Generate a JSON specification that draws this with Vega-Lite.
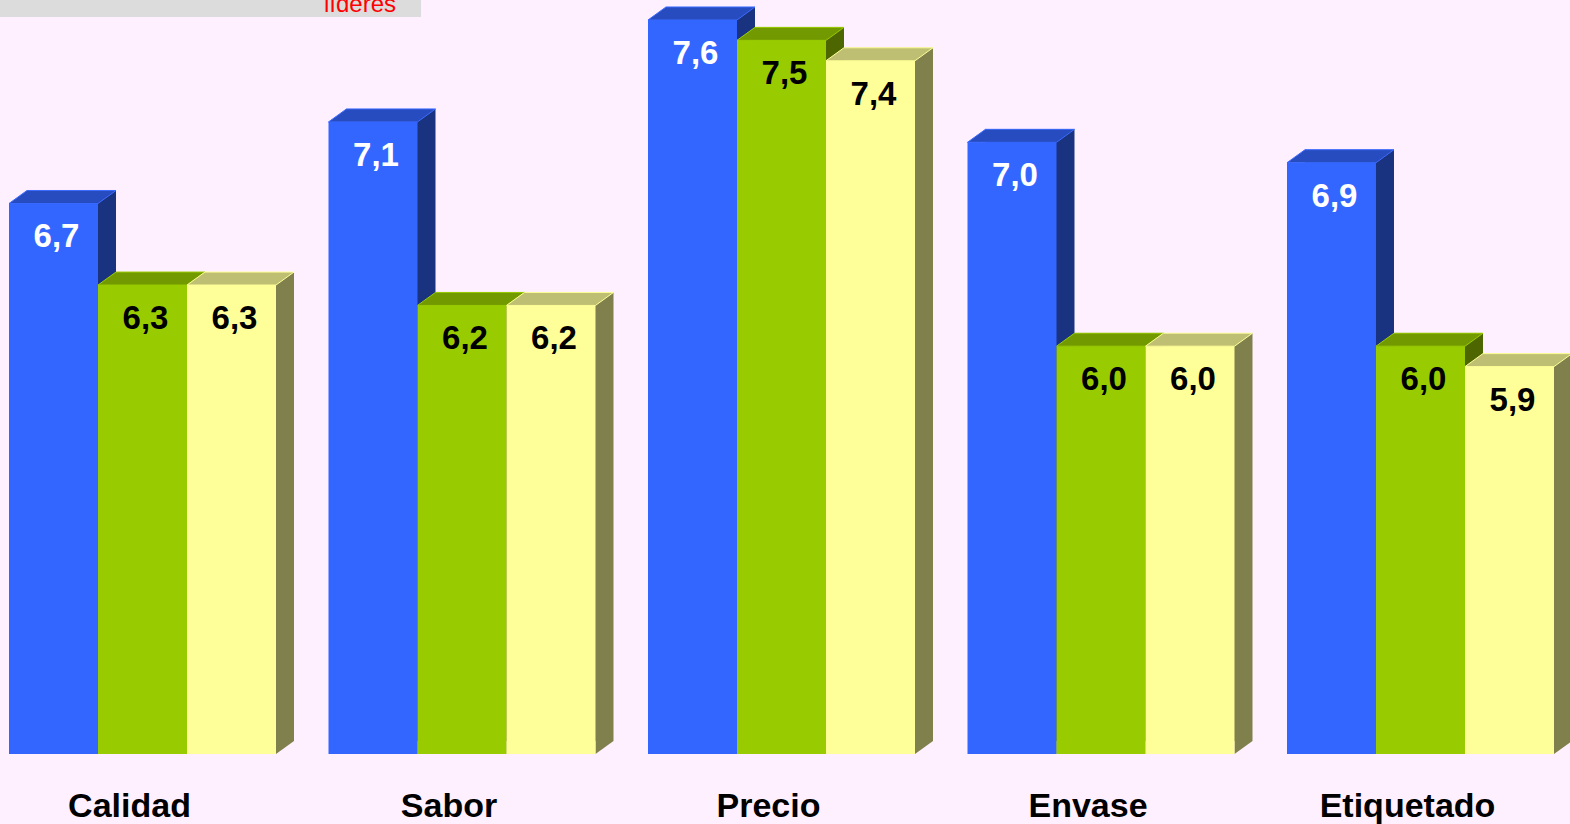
{
  "$schema": "https://vega.github.io/schema/vega-lite/v6.json",
  "width": 1570,
  "height": 754,
  "autosize": {"type": "none"},
  "padding": {"left": 0, "top": 0, "right": 0, "bottom": 70},
  "background": "#FFF0FF",
  "config": {
    "view": {"stroke": null},
    "font": "Liberation Sans",
    "locale": {"number": {"decimal": ",", "thousands": ".", "grouping": [3], "currency": ["", " €"]}}
  },
  "data": {
    "values": [
      {"aspecto": "Calidad", "grupo": "Total", "nota": 6.7},
      {"aspecto": "Calidad", "grupo": "Marcas blancas", "nota": 6.3},
      {"aspecto": "Calidad", "grupo": "Primeras marcas líderes", "nota": 6.3},
      {"aspecto": "Sabor", "grupo": "Total", "nota": 7.1},
      {"aspecto": "Sabor", "grupo": "Marcas blancas", "nota": 6.2},
      {"aspecto": "Sabor", "grupo": "Primeras marcas líderes", "nota": 6.2},
      {"aspecto": "Precio", "grupo": "Total", "nota": 7.6},
      {"aspecto": "Precio", "grupo": "Marcas blancas", "nota": 7.5},
      {"aspecto": "Precio", "grupo": "Primeras marcas líderes", "nota": 7.4},
      {"aspecto": "Envase", "grupo": "Total", "nota": 7.0},
      {"aspecto": "Envase", "grupo": "Marcas blancas", "nota": 6.0},
      {"aspecto": "Envase", "grupo": "Primeras marcas líderes", "nota": 6.0},
      {"aspecto": "Etiquetado", "grupo": "Total", "nota": 6.9},
      {"aspecto": "Etiquetado", "grupo": "Marcas blancas", "nota": 6.0},
      {"aspecto": "Etiquetado", "grupo": "Primeras marcas líderes", "nota": 5.9}
    ]
  },
  "encoding": {
    "x": {
      "field": "aspecto",
      "type": "nominal",
      "sort": ["Calidad", "Sabor", "Precio", "Envase", "Etiquetado"],
      "scale": {"type": "band", "range": [9, 1554], "paddingInner": 0.1643, "paddingOuter": 0},
      "title": null,
      "axis": {
        "domain": false,
        "ticks": false,
        "tickSize": 0,
        "grid": false,
        "labelAngle": 0,
        "labelFont": "Liberation Sans",
        "labelFontWeight": "bold",
        "labelFontSize": 34,
        "labelColor": "#000000",
        "labelBaseline": "alphabetic",
        "labelPadding": 62,
        "labelOffset": -13
      }
    },
    "y": {
      "field": "nota",
      "type": "quantitative",
      "scale": {"domain": [4, 7.698], "nice": false, "zero": false},
      "axis": null
    }
  },
  "layer": [
    {
      "description": "back box shifted 18px right and 13px up; its right strip is the side face",
      "mark": {"type": "bar", "yOffset": -13, "y2Offset": -13},
      "encoding": {
        "xOffset": {
          "field": "grupo", "type": "nominal",
          "sort": ["Total", "Marcas blancas", "Primeras marcas líderes"],
          "scale": {"type": "band", "range": [18, 285], "paddingInner": 0, "paddingOuter": 0}
        },
        "y2": {"datum": 4},
        "color": {
          "field": "grupo",
          "scale": {"domain": ["Total", "Marcas blancas", "Primeras marcas líderes"], "range": ["#1A3380", "#4D6600", "#80804D"]},
          "legend": null
        }
      }
    },
    {
      "description": "slanted foot of the side face",
      "mark": {"type": "point", "shape": "M-1,-0.7222L-1,0.7222L1,-0.7222Z", "size": 324, "filled": true, "opacity": 1, "strokeWidth": 0, "yOffset": -6.5},
      "encoding": {
        "xOffset": {
          "field": "grupo", "type": "nominal",
          "sort": ["Total", "Marcas blancas", "Primeras marcas líderes"],
          "scale": {"type": "band", "range": [53.5, 320.5], "paddingInner": 0, "paddingOuter": 0}
        },
        "y": {"datum": 4},
        "color": {
          "field": "grupo",
          "scale": {"domain": ["Total", "Marcas blancas", "Primeras marcas líderes"], "range": ["#1A3380", "#4D6600", "#80804D"]},
          "legend": null
        }
      }
    },
    {
      "description": "top face parallelogram",
      "mark": {"type": "point", "shape": "M-1,0.1215L0.6636,0.1215L1,-0.1215L-0.6636,-0.1215Z", "size": 11449, "filled": true, "opacity": 1, "strokeWidth": 1, "strokeJoin": "bevel", "yOffset": -6.5},
      "encoding": {
        "xOffset": {
          "field": "grupo", "type": "nominal",
          "sort": ["Total", "Marcas blancas", "Primeras marcas líderes"],
          "scale": {"type": "band", "range": [9, 276], "paddingInner": 0, "paddingOuter": 0}
        },
        "color": {
          "field": "grupo",
          "scale": {"domain": ["Total", "Marcas blancas", "Primeras marcas líderes"], "range": ["#264CBF", "#739900", "#BFBF73"]},
          "legend": null
        },
        "stroke": {
          "field": "grupo",
          "scale": {"domain": ["Total", "Marcas blancas", "Primeras marcas líderes"], "range": ["#3D6CFF", "#99CC00", "#FFFF99"]},
          "legend": null
        }
      }
    },
    {
      "description": "front face",
      "mark": {"type": "bar"},
      "encoding": {
        "xOffset": {
          "field": "grupo", "type": "nominal",
          "sort": ["Total", "Marcas blancas", "Primeras marcas líderes"],
          "scale": {"type": "band", "range": [0, 267], "paddingInner": 0, "paddingOuter": 0}
        },
        "y2": {"datum": 4},
        "color": {
          "field": "grupo",
          "scale": {"domain": ["Total", "Marcas blancas", "Primeras marcas líderes"], "range": ["#3366FF", "#99CC00", "#FFFF99"]},
          "legend": {
            "title": null,
            "orient": "none",
            "legendX": 0,
            "legendY": -59,
            "direction": "horizontal",
            "fillColor": "#DCDCDC",
            "padding": 0,
            "columnPadding": 53,
            "symbolType": "square",
            "symbolSize": 300,
            "symbolStrokeWidth": 0,
            "labelFont": "Liberation Sans",
            "labelFontSize": 24,
            "labelColor": "#FF0000",
            "labelLimit": 400,
            "labelExpr": "split(datum.label, ' ')"
          }
        }
      }
    },
    {
      "description": "value labels",
      "mark": {"type": "text", "font": "Liberation Sans", "fontSize": 33, "fontWeight": "bold", "baseline": "alphabetic", "dx": 3, "dy": 44},
      "encoding": {
        "xOffset": {
          "field": "grupo", "type": "nominal",
          "sort": ["Total", "Marcas blancas", "Primeras marcas líderes"],
          "scale": {"type": "band", "range": [0, 267], "paddingInner": 0, "paddingOuter": 0}
        },
        "text": {"field": "nota", "type": "quantitative", "format": ".1f"},
        "color": {
          "condition": {"test": "datum.grupo === 'Total'", "value": "#FFFFFF"},
          "value": "#000000"
        }
      }
    }
  ],
  "resolve": {"scale": {"color": "independent", "stroke": "independent", "xOffset": "independent"}}
}
